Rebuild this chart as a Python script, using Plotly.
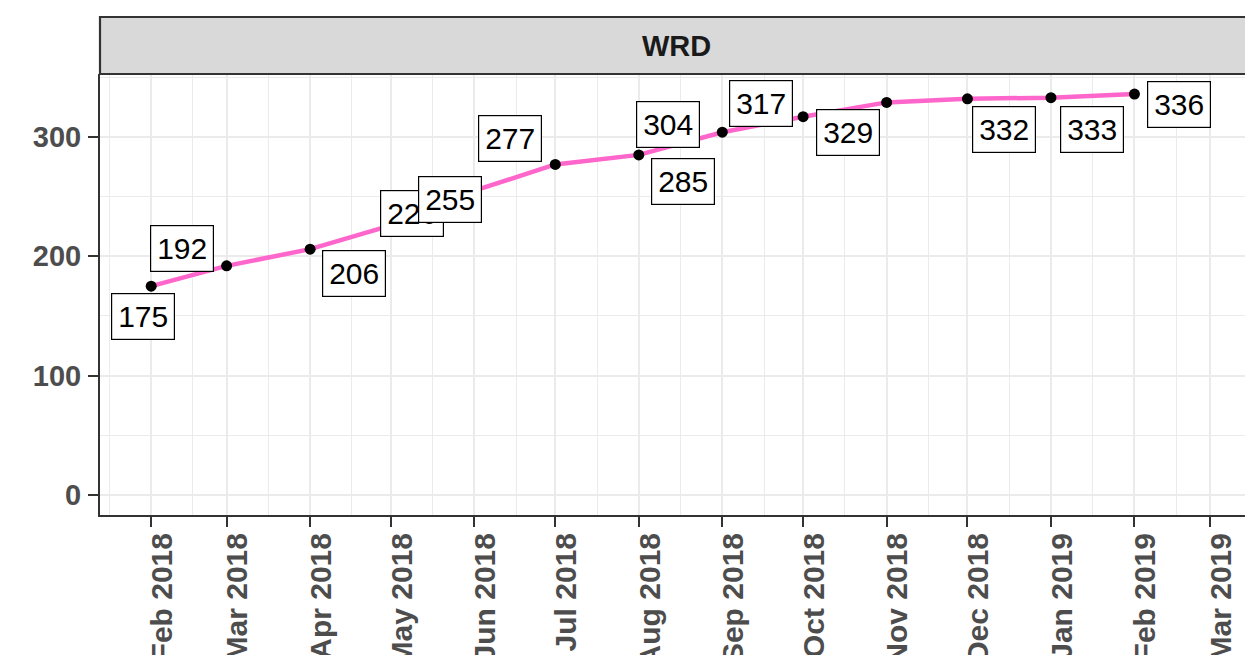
import plotly.graph_objects as go

# ---- data ----
months = ["2018-02-01", "2018-03-01", "2018-04-01", "2018-05-01", "2018-06-01",
          "2018-07-01", "2018-08-01", "2018-09-01", "2018-10-01", "2018-11-01",
          "2018-12-01", "2019-01-01", "2019-02-01"]
values = [175, 192, 206, 226, 255, 277, 285, 304, 317, 329, 332, 333, 336]
facet_label = "WRD"
# label offsets (pixels, repel-like placement)
label_dx = [-8, -45, 44, 21, -24, -45, 44, -54, -42, -39, 37, 41, 45]
label_dy = [30, -17, 24, -12, 9, -26, 27, -8, -13, 30, 31, 32, 10]

FONT = "Liberation Sans, Arial, Helvetica, sans-serif"
OFF = 8  # page body margin
W = 1253 - OFF
H = 655 - OFF
PANEL_TOP = 74 - OFF
PANEL_BOTTOM = 515 - OFF
PANEL_LEFT = 100 - OFF

fig = go.Figure()
fig.add_trace(go.Scatter(
    x=months, y=values, mode="lines",
    line=dict(color="#FF66CC", width=4.5),
    hoverinfo="skip", showlegend=False,
))
fig.add_trace(go.Scatter(
    x=months, y=values, mode="markers",
    marker=dict(color="black", size=11),
    showlegend=False,
))

for m, v, dx, dy in zip(months, values, label_dx, label_dy):
    fig.add_annotation(
        x=m, y=v, text=str(v), showarrow=True,
        ax=dx, ay=dy, arrowcolor="rgba(0,0,0,0)", arrowwidth=0.1,
        font=dict(family=FONT, size=30, color="black"),
        bgcolor="white", bordercolor="black", borderwidth=1.2, borderpad=6,
        xanchor="center", yanchor="middle",
    )

panel_h = PANEL_BOTTOM - PANEL_TOP
strip_top = 1 + (PANEL_TOP - (17 - OFF)) / panel_h

fig.add_shape(type="rect", xref="paper", yref="paper",
              x0=0, x1=1.01, y0=1, y1=strip_top,
              fillcolor="#D9D9D9", line=dict(color="#333333", width=2.2),
              layer="above")
fig.add_annotation(xref="paper", yref="paper", x=0.5, y=(1 + strip_top) / 2,
                   text=facet_label, showarrow=False,
                   font=dict(family=FONT, size=29, color="#1A1A1A", weight="bold"),
                   xanchor="center", yanchor="middle")

fig.update_layout(
    width=W, height=H,
    margin=dict(l=PANEL_LEFT, r=0, t=PANEL_TOP, b=H - PANEL_BOTTOM, autoexpand=False),
    paper_bgcolor="white", plot_bgcolor="white",
    showlegend=False,
    font=dict(family=FONT),
)
fig.update_xaxes(
    type="date", range=["2018-01-13", "2019-03-17"],
    tick0="2018-02-01", dtick="M1", tickformat="%b %Y", tickangle=-90,
    tickfont=dict(family=FONT, size=30, color="#4D4D4D", weight="bold"),
    ticks="outside", ticklen=10, tickwidth=2, tickcolor="#333333",
    showgrid=True, gridcolor="#EBEBEB", gridwidth=2,
    minor=dict(tick0="2018-01-16 12:00", dtick="M1", showgrid=True,
               gridcolor="#EBEBEB", gridwidth=1, ticks=""),
    showline=True, linecolor="#333333", linewidth=2, mirror=False,
    zeroline=False, automargin=False, ticklabelstandoff=-6, ticklabelshift=11,
)
fig.update_yaxes(
    range=[-16.8, 352.8], tickvals=[0, 100, 200, 300],
    tickfont=dict(family=FONT, size=29, color="#4D4D4D", weight="bold"),
    ticks="outside", ticklen=10, tickwidth=2, tickcolor="#333333",
    showgrid=True, gridcolor="#EBEBEB", gridwidth=2,
    minor=dict(tickvals=[50, 150, 250, 350], showgrid=True,
               gridcolor="#EBEBEB", gridwidth=1, ticks=""),
    showline=True, linecolor="#333333", linewidth=2,
    zeroline=False, automargin=False, ticklabelstandoff=1,
)

fig.write_html("out.html")
